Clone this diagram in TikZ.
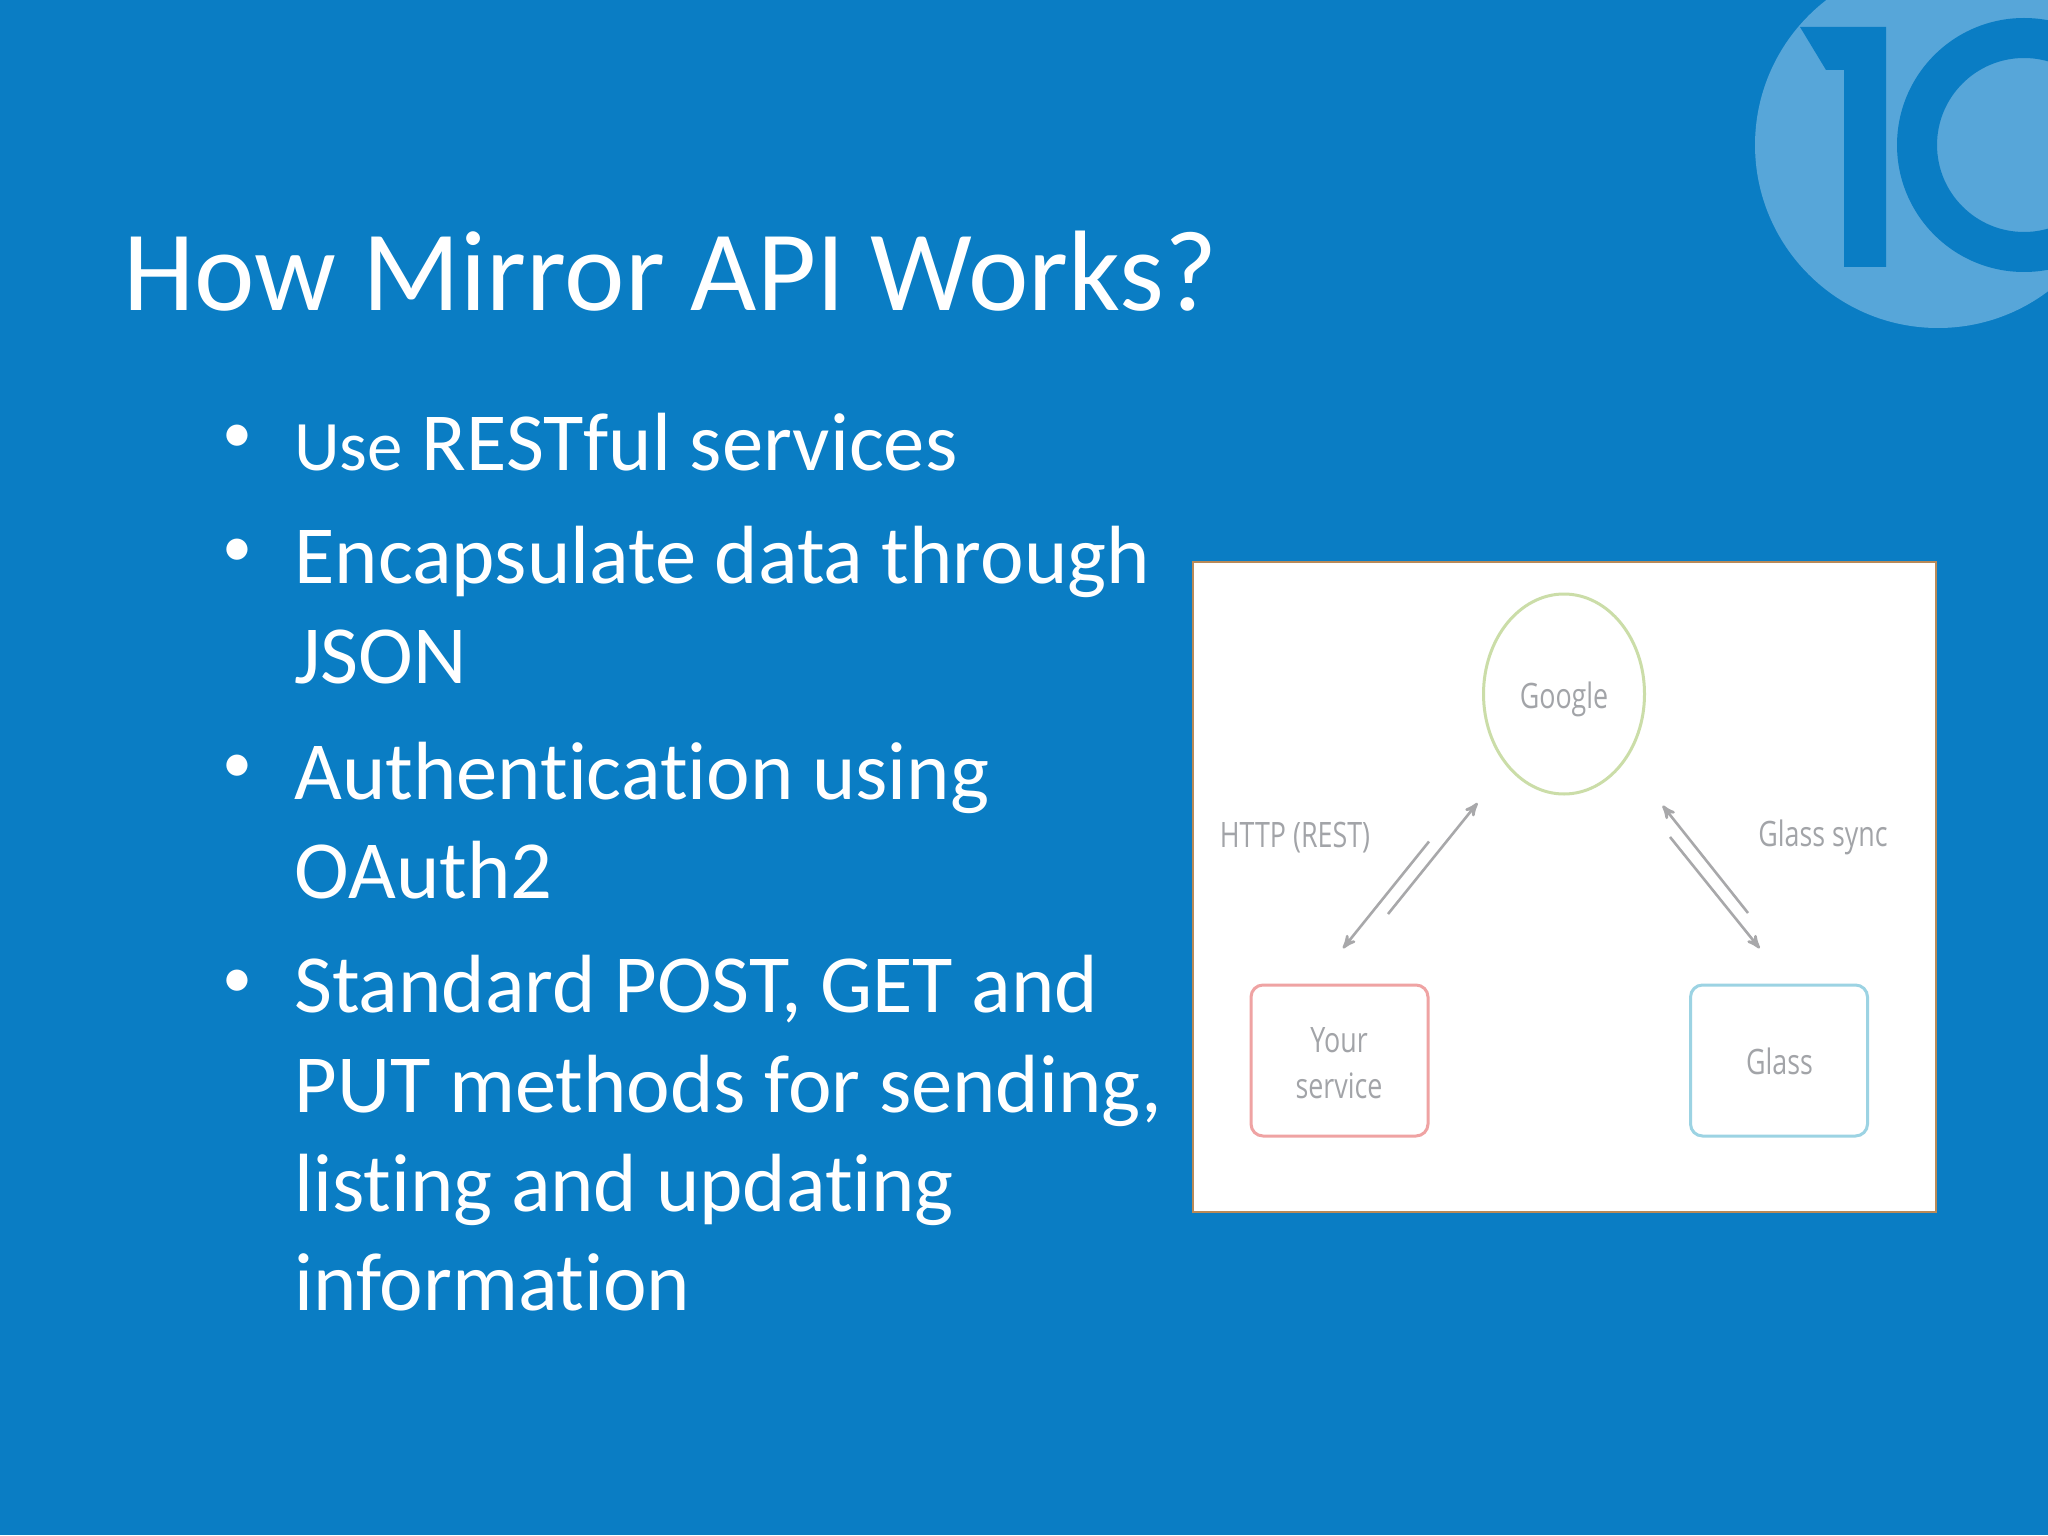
\documentclass[tikz,border=0pt]{standalone}
\usepackage{fontspec}
\setmainfont{Carlito}[Ligatures=CommonOff]
\newfontfamily\labelfont{Open Sans}
\usetikzlibrary{arrows,positioning,shapes.geometric}
\definecolor{slideblue}{HTML}{0A7DC4}
\definecolor{logoblue}{HTML}{57A6D9}
\definecolor{labelgray}{HTML}{A2A4A8}
\definecolor{arrowgray}{HTML}{A8A8AA}
\definecolor{panelline}{HTML}{B98A58}
\definecolor{googleline}{HTML}{CBDDA8}
\definecolor{yourline}{HTML}{EFA3A3}
\definecolor{glassline}{HTML}{9CD3E3}
\tikzset{
>=stealth',
  title/.style={anchor=base west, inner sep=0pt, text=white, font=\fontsize{57.25}{70}\selectfont},
  bulletitem/.style={anchor=base west, inner sep=0pt, text=white, align=left, font=\fontsize{41.3}{49.6}\selectfont},
  bulletmark/.style={anchor=center, inner sep=0pt, text=white, font=\fontsize{30}{30}\selectfont},
  panel/.style={rectangle, draw=panelline, fill=white, line width=1pt, minimum width=371.5pt, minimum height=325pt, inner sep=0pt},
  roundbox/.style={rectangle, rounded corners=6pt, fill=white, line width=1.5pt, minimum width=88.5pt, minimum height=75.5pt, inner sep=0pt},
  imagelabel/.style={inner sep=0pt, text=labelgray, xscale=0.767, font=\labelfont\fontsize{17.5}{26.5}\selectfont},
  myarrow/.style={draw=arrowgray, line width=1.3pt},
}
\begin{document}
\begin{tikzpicture}[x=0.5pt,y=-0.5pt]
      \path[use as bounding box,clip] (0,0) rectangle (2048,1535);
      \fill[slideblue] (0,0) rectangle (2048,1535);

      % logo
      \fill[logoblue] (1938,145) circle [radius=91.5pt];
      \fill[slideblue,even odd rule] (2024,145) circle [radius=63.5pt] (2024,145) circle [radius=43.5pt];
      \fill[slideblue] (1800,27) -- (1886,27) -- (1886,267) -- (1844,267) -- (1844,70) -- (1826,70) -- cycle;

      % text
      \node[title] (item1) at (123,310.5) {How Mirror API Works?};
      \node[bulletmark] (mark1) at (237.5,439) {\textbullet};
      \node[bulletmark] (mark2) at (237.5,553) {\textbullet};
      \node[bulletmark] (mark3) at (237.5,769) {\textbullet};
      \node[bulletmark] (mark4) at (237.5,984) {\textbullet};
      \node[bulletitem] (item2) at (294,470) {{\fontsize{35.5}{49.6}\selectfont Use} RESTful services};
      \node[bulletitem] (item3) at (294,683) {Encapsulate data through\\JSON};
      \node[bulletitem] (item4) at (294,898.5) {Authentication using\\OAuth2};
      \node[bulletitem] (item5) at (294,1310.5) {Standard POST, GET and\\PUT methods for sending,\\listing and updating\\information};

      % picture
      \node[panel] (panel1) at (1564,887) {};
      \node[ellipse, draw=googleline, fill=white, line width=1.5pt, minimum width=80.5pt, minimum height=100pt, inner sep=0pt] (google) at (1564,694) {};
      \node[imagelabel] (googletext) at (1564,699.5) {Google};
      \node[roundbox, draw=yourline] (yourservice) at (1339.5,1060.5) {};
      \node[roundbox, draw=glassline] (glass) at (1779,1060.5) {};
      \node[imagelabel] (yourtext) at (1339,1040) {Your};
      \node[imagelabel] (servicetext) at (1339,1086) {service};
      \node[imagelabel] (glasstext) at (1779.5,1061.5) {Glass};
      \node[imagelabel] (httplabel) at (1295,837.5) {HTTP (REST)};
      \node[imagelabel] (synclabel) at (1823,837.5) {Glass sync};

      \coordinate (AuxNode01) at (1388,914);
      \coordinate (AuxNode02) at (1477.5,803);
      \coordinate (AuxNode03) at (1429,841.5);
      \coordinate (AuxNode04) at (1343,948.3);
      \coordinate (AuxNode05) at (1748,913);
      \coordinate (AuxNode06) at (1662.6,805.6);
      \coordinate (AuxNode07) at (1670,837);
      \coordinate (AuxNode08) at (1759.6,948.3);

      \path[myarrow,->] (AuxNode01) -- (AuxNode02);
      \path[myarrow,->] (AuxNode03) -- (AuxNode04);
      \path[myarrow,->] (AuxNode05) -- (AuxNode06);
      \path[myarrow,->] (AuxNode07) -- (AuxNode08);
\end{tikzpicture}
\end{document}
